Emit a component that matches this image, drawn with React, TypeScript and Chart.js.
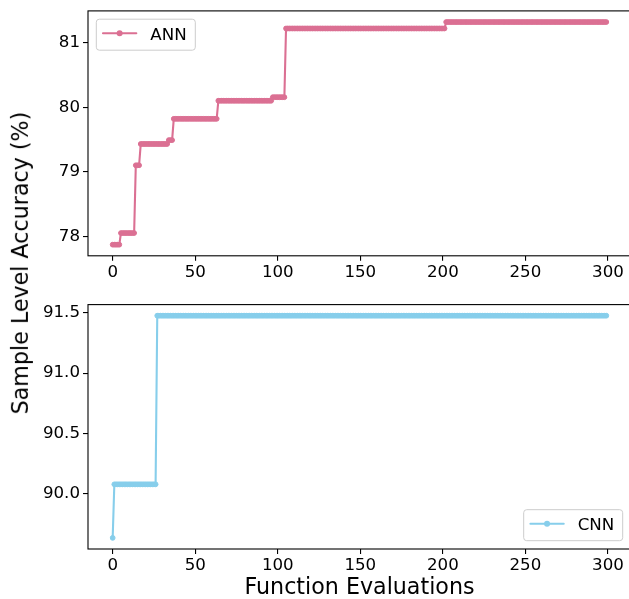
import React, { useEffect, useRef } from 'react';
import { Chart, registerables } from 'chart.js';

Chart.register(...registerables);

const FONT_FAMILY = '"DejaVu Sans", sans-serif';

// number of function evaluations (x = 0 .. 299)
const evaluations = 300;

// ANN best-so-far accuracy levels and the evaluation index where each level starts
const annLevels = [77.87, 78.05, 79.1, 79.43, 79.49, 79.82, 80.1, 80.155, 81.22, 81.32];
const annStarts = [0, 5, 14, 17, 34, 37, 64, 97, 105, 202];

// CNN best-so-far accuracy levels and start indices
const cnnLevels = [89.637, 90.08, 91.475];
const cnnStarts = [0, 1, 27];

const xTicks = [0, 50, 100, 150, 200, 250, 300];
const annYTicks = [78, 79, 80, 81];
const cnnYTicks = [90.0, 90.5, 91.0, 91.5];

const annColor = '#DB7093';
const cnnColor = '#87CEEB';

const CANVAS_W = 636;

function bestSoFar(levels: number[], starts: number[]) {
  const pts: { x: number; y: number }[] = [];
  let k = 0;
  for (let i = 0; i < evaluations; i++) {
    while (k + 1 < starts.length && starts[k + 1] <= i) k++;
    pts.push({ x: i, y: levels[k] });
  }
  return pts;
}

function padRange(min: number, max: number): [number, number] {
  const m = (max - min) * 0.05;
  return [min - m, max + m];
}

const framePlugin = {
  id: 'frame',
  afterDatasetsDraw(chart: any) {
    const { ctx, chartArea: a } = chart;
    ctx.save();
    ctx.strokeStyle = '#000';
    ctx.lineWidth = 1.1;
    ctx.strokeRect(a.left, a.top, a.right - a.left, a.bottom - a.top);
    ctx.restore();
  },
};

const boxLegendPlugin = {
  id: 'boxLegend',
  afterDraw(chart: any, _args: any, opts: any) {
    const { ctx, chartArea: a } = chart;
    const w = 99;
    const h = 31;
    const inset = 8.3;
    const x = opts.corner === 'topLeft' ? a.left + inset : a.right - inset - w;
    const y = opts.corner === 'topLeft' ? a.top + inset : a.bottom - inset - h;
    ctx.save();
    ctx.beginPath();
    ctx.roundRect(x, y, w, h, 3);
    ctx.fillStyle = 'rgba(255,255,255,0.8)';
    ctx.fill();
    ctx.strokeStyle = '#cccccc';
    ctx.lineWidth = 1;
    ctx.stroke();
    const ly = y + 14;
    ctx.beginPath();
    ctx.moveTo(x + 6.7, ly);
    ctx.lineTo(x + 40, ly);
    ctx.strokeStyle = opts.swatch;
    ctx.lineWidth = 2.1;
    ctx.lineCap = 'round';
    ctx.stroke();
    ctx.beginPath();
    ctx.arc(x + 23.35, ly, 3, 0, Math.PI * 2);
    ctx.fillStyle = opts.swatch;
    ctx.fill();
    ctx.font = `16.67px ${FONT_FAMILY}`;
    ctx.fillStyle = '#000';
    ctx.textBaseline = 'alphabetic';
    ctx.textAlign = 'left';
    ctx.fillText(opts.text, x + 54, y + 20.5);
    ctx.restore();
  },
};

interface PanelCfg {
  label: string;
  color: string;
  levels: number[];
  starts: number[];
  yTicks: number[];
  decimals: number;
  padTop: number;
  xAxisHeight: number;
  showXTitle: boolean;
  corner: string;
}

function makeChart(canvas: HTMLCanvasElement, cfg: PanelCfg) {
  const data = bestSoFar(cfg.levels, cfg.starts);
  const [ymin, ymax] = padRange(Math.min(...cfg.levels), Math.max(...cfg.levels));
  const [xmin, xmax] = padRange(0, evaluations - 1);
  return new Chart(canvas, {
    type: 'line',
    data: {
      datasets: [
        {
          label: cfg.label,
          data,
          borderColor: cfg.color,
          backgroundColor: cfg.color,
          pointBackgroundColor: cfg.color,
          pointBorderColor: cfg.color,
          pointRadius: 2.4,
          pointBorderWidth: 1,
          borderWidth: 2.1,
          tension: 0,
          fill: false,
        },
      ],
    },
    options: {
      responsive: false,
      animation: false,
      events: [],
      layout: { padding: { top: cfg.padTop, right: 0.5, bottom: 0, left: 0 } },
      plugins: {
        legend: { display: false },
        tooltip: { enabled: false },
        boxLegend: { corner: cfg.corner, text: cfg.label, swatch: cfg.color },
      } as any,
      scales: {
        x: {
          type: 'linear',
          min: xmin,
          max: xmax,
          afterBuildTicks: (axis: any) => {
            axis.ticks = xTicks.map((v) => ({ value: v }));
          },
          afterFit: (s: any) => {
            s.height = cfg.xAxisHeight;
            s.paddingLeft = 0;
            s.paddingRight = 0;
          },
          ticks: {
            font: { family: FONT_FAMILY, size: 16.67 },
            color: '#000',
            padding: 2,
            maxRotation: 0,
            autoSkip: false,
            callback: (v: any) => String(v),
          },
          grid: { drawOnChartArea: false, drawTicks: true, tickLength: 5, color: '#000', lineWidth: 1.1 },
          border: { display: false },
          title: {
            display: cfg.showXTitle,
            text: 'Function Evaluations',
            color: '#000',
            font: { family: FONT_FAMILY, size: 22.2, lineHeight: 1 },
            padding: { top: 0, bottom: 0 },
          },
        },
        y: {
          type: 'linear',
          min: ymin,
          max: ymax,
          afterBuildTicks: (axis: any) => {
            axis.ticks = cfg.yTicks.map((v) => ({ value: v }));
          },
          afterFit: (s: any) => {
            s.width = 88;
            s.paddingTop = 0;
            s.paddingBottom = 0;
          },
          ticks: {
            font: { family: FONT_FAMILY, size: 16.67 },
            color: '#000',
            padding: 3,
            autoSkip: false,
            callback: (v: any) => Number(v).toFixed(cfg.decimals),
          },
          grid: { drawOnChartArea: false, drawTicks: true, tickLength: 5, color: '#000', lineWidth: 1.1 },
          border: { display: false },
        },
      },
    } as any,
    plugins: [framePlugin, boxLegendPlugin],
  });
}

export default function App() {
  const topRef = useRef<HTMLCanvasElement>(null);
  const botRef = useRef<HTMLCanvasElement>(null);

  useEffect(() => {
    const top = makeChart(topRef.current!, {
      label: 'ANN',
      color: annColor,
      levels: annLevels,
      starts: annStarts,
      yTicks: annYTicks,
      decimals: 0,
      padTop: 10.9,
      xAxisHeight: 34.2,
      showXTitle: false,
      corner: 'topLeft',
    });
    const bot = makeChart(botRef.current!, {
      label: 'CNN',
      color: cnnColor,
      levels: cnnLevels,
      starts: cnnStarts,
      yTicks: cnnYTicks,
      decimals: 1,
      padTop: 14.6,
      xAxisHeight: 50,
      showXTitle: true,
      corner: 'bottomRight',
    });
    return () => {
      top.destroy();
      bot.destroy();
    };
  }, []);

  return (
    <div
      style={{
        position: 'absolute',
        left: 0,
        top: 0,
        width: 629,
        height: 599,
        overflow: 'hidden',
        background: '#fff',
      }}
    >
      <canvas
        ref={topRef}
        width={CANVAS_W}
        height={290}
        style={{ position: 'absolute', left: 0, top: 0, width: CANVAS_W, height: 290 }}
      />
      <canvas
        ref={botRef}
        width={CANVAS_W}
        height={309}
        style={{ position: 'absolute', left: 0, top: 290, width: CANVAS_W, height: 309 }}
      />
      <div
        style={{
          position: 'absolute',
          left: 20.1 - 250,
          top: 263.5 - 11.1,
          width: 500,
          height: 22.2,
          lineHeight: '22.2px',
          fontSize: '22.2px',
          fontFamily: FONT_FAMILY,
          textAlign: 'center',
          whiteSpace: 'nowrap',
          color: '#000',
          transform: 'rotate(-90deg)',
        }}
      >
        Sample Level Accuracy (%)
      </div>
    </div>
  );
}
